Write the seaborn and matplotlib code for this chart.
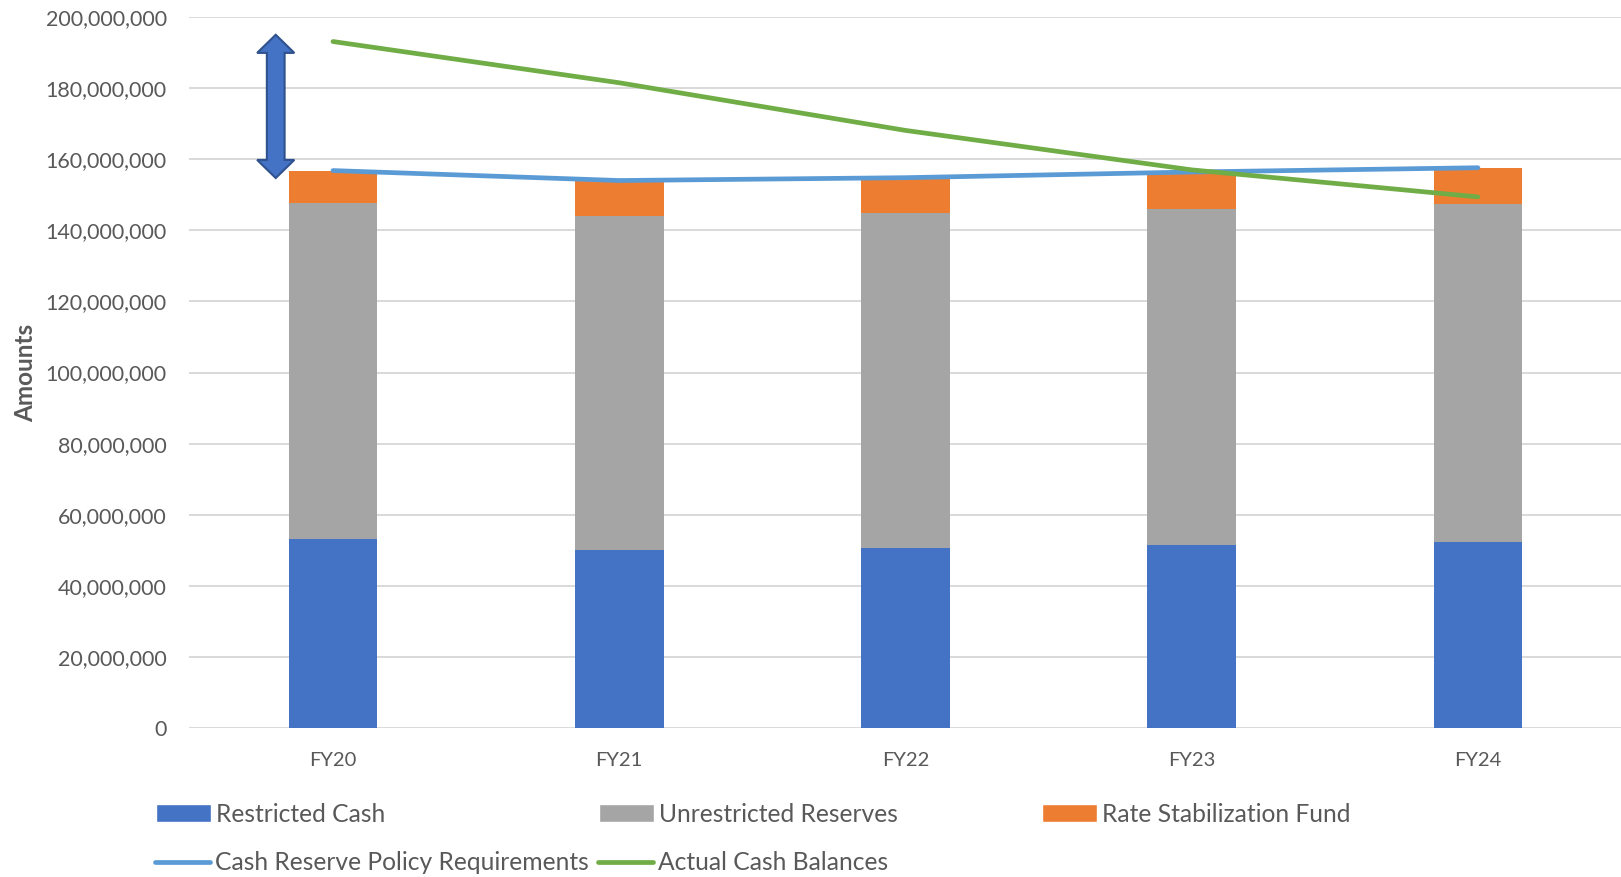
import numpy as np
import pandas as pd
import matplotlib
matplotlib.use("Agg")
import matplotlib.pyplot as plt
from matplotlib.patches import Patch, Polygon
from matplotlib.lines import Line2D
from matplotlib.ticker import FuncFormatter, MultipleLocator
import seaborn as sns

# Fiscal years
years = ["FY20", "FY21", "FY22", "FY23", "FY24"]

# Cash components (dollars)
restricted_cash = [53.3e6, 50.1e6, 50.7e6, 51.5e6, 52.4e6]
unrestricted_reserves = [94.3e6, 94.0e6, 94.2e6, 94.5e6, 95.1e6]
rate_stabilization = [9.1e6, 9.8e6, 9.5e6, 10.3e6, 10.1e6]

# Reference lines (dollars)
policy_requirements = [156.8e6, 154.0e6, 154.8e6, 156.4e6, 157.6e6]
actual_balances = [193.1e6, 181.5e6, 168.1e6, 157.0e6, 149.4e6]

# Gap marker between actual balances and policy requirements
gap_low, gap_high = 154.7e6, 195.0e6

C_RESTRICTED = "#4472C4"
C_UNRESTRICTED = "#A5A5A5"
C_RSF = "#ED7D31"
C_POLICY = "#5B9BD5"
C_ACTUAL = "#70AD47"
TEXT = "#595959"

sns.set_theme(style="white")
plt.rcParams["font.family"] = ["Lato", "DejaVu Sans"]

df = pd.DataFrame({
    "year": years,
    "restricted": restricted_cash,
    "unrestricted": unrestricted_reserves,
    "rsf": rate_stabilization,
})
df["lvl2"] = df["restricted"] + df["unrestricted"]
df["lvl3"] = df["lvl2"] + df["rsf"]

fig = plt.figure(figsize=(16.21, 8.77), dpi=100)
ax = fig.add_axes([189 / 1621, 1 - 728 / 877, 1 - 189 / 1621, (728 - 17) / 877])

bar_w = 0.31
# Stacked bars drawn back to front using cumulative totals
sns.barplot(data=df, x="year", y="lvl3", color=C_RSF, width=bar_w, saturation=1,
            ax=ax, zorder=2, linewidth=0)
sns.barplot(data=df, x="year", y="lvl2", color=C_UNRESTRICTED, width=bar_w, saturation=1,
            ax=ax, zorder=2, linewidth=0)
sns.barplot(data=df, x="year", y="restricted", color=C_RESTRICTED, width=bar_w, saturation=1,
            ax=ax, zorder=2, linewidth=0)

pos = np.arange(len(years))
lw = 3.4
sns.lineplot(x=pos, y=policy_requirements, color=C_POLICY, linewidth=lw, ax=ax,
             zorder=4, solid_capstyle="round")
sns.lineplot(x=pos, y=actual_balances, color=C_ACTUAL, linewidth=lw, ax=ax,
             zorder=5, solid_capstyle="round")

ax.set_xlim(-0.503, 4.5)
ax.set_ylim(0, 200e6)
ax.yaxis.set_major_locator(MultipleLocator(20e6))
ax.yaxis.set_major_formatter(FuncFormatter(lambda v, p: f"{int(round(v)):,}"))
ax.grid(axis="y", color="#D9D9D9", linewidth=1.4, zorder=0)
ax.set_axisbelow(True)
for s in ax.spines.values():
    s.set_visible(False)
ax.tick_params(axis="y", length=0, pad=16, labelsize=15.5, labelcolor=TEXT)
ax.tick_params(axis="x", length=0, pad=17, labelsize=14.5, labelcolor=TEXT)
ax.set_xlabel("")
ax.set_ylabel("Amounts", fontsize=17.5, fontweight="bold", color=TEXT)
ax.yaxis.set_label_coords(-(189 - 37) / (1621 - 189), 0.5)

# Double-headed block arrow showing the gap
ax_xc = -0.20
half_shaft = 0.031
half_head = 0.065
head_len = 5.1e6
verts = [
    (ax_xc, gap_high),
    (ax_xc + half_head, gap_high - head_len),
    (ax_xc + half_shaft, gap_high - head_len),
    (ax_xc + half_shaft, gap_low + head_len),
    (ax_xc + half_head, gap_low + head_len),
    (ax_xc, gap_low),
    (ax_xc - half_head, gap_low + head_len),
    (ax_xc - half_shaft, gap_low + head_len),
    (ax_xc - half_shaft, gap_high - head_len),
    (ax_xc - half_head, gap_high - head_len),
]
ax.add_patch(Polygon(verts, closed=True, facecolor=C_RESTRICTED, edgecolor="#2F528F",
                     linewidth=1.5, zorder=6, clip_on=False))

# Legend entries laid out in two rows
entries = [
    (Patch(facecolor=C_RESTRICTED), "Restricted Cash", 156, 814),
    (Patch(facecolor=C_UNRESTRICTED), "Unrestricted Reserves", 599, 814),
    (Patch(facecolor=C_RSF), "Rate Stabilization Fund", 1042, 814),
    (Line2D([], [], color=C_POLICY, linewidth=lw, solid_capstyle="round"),
     "Cash Reserve Policy Requirements", 155, 863),
    (Line2D([], [], color=C_ACTUAL, linewidth=lw, solid_capstyle="round"),
     "Actual Cash Balances", 598, 863),
]
for handle, label, px, py in entries:
    fig.legend([handle], [label], loc="center left",
               bbox_to_anchor=(px / 1621, 1 - py / 877), frameon=False,
               fontsize=17.7, handlelength=2.25, handletextpad=0.2,
               borderpad=0, borderaxespad=0, labelcolor=TEXT)

fig.savefig("out.png", dpi=100)
